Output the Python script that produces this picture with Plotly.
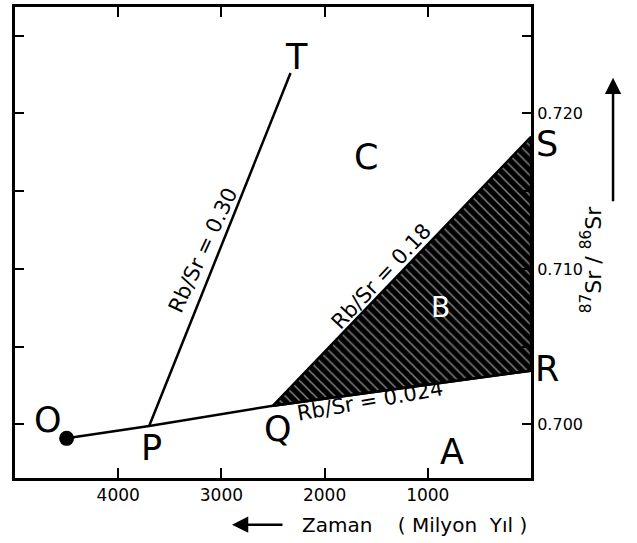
import plotly.graph_objects as go

# ---- data ----
point_names = ["O", "P", "Q", "R", "S", "T"]
age_ma = [4500, 3700, 2500, 0, 0, 2330]
sr_ratio = [0.6991, 0.6999, 0.7012, 0.70345, 0.7185, 0.7226]

x_tick_vals = [4000, 3000, 2000, 1000]
x_tick_text = ["4000", "3000", "2000", "1000"]
y_tick_vals = [0.700, 0.705, 0.710, 0.715, 0.720, 0.725]
y_tick_text = ["0.700", "", "0.710", "", "0.720", ""]

region_names = ["C", "B", "A"]
region_age = [1600, 880, 765]
region_sr = [0.7172, 0.7075, 0.6982]

line_labels = ["Rb/Sr = 0.30", "Rb/Sr = 0.18", "Rb/Sr = 0.024"]
line_label_age = [3180, 1445, 1560]
line_label_sr = [0.71125, 0.70953, 0.70153]
line_label_angle = [-65, -47, -10]

P = dict(zip(point_names, zip(age_ma, sr_ratio)))
FONT = "DejaVu Sans"

fig = go.Figure()

# hatched triangle Q-S-R
tri = ["Q", "S", "R", "Q"]
fig.add_trace(go.Scatter(
    x=[P[k][0] for k in tri], y=[P[k][1] for k in tri],
    mode="lines", fill="toself",
    line=dict(color="black", width=2.5),
    fillcolor="black",
    fillpattern=dict(shape="\\", fgcolor="white", bgcolor="black", size=7, solidity=0.22),
    showlegend=False, hoverinfo="skip"))

# O -> R line (through P and Q)
seg = ["O", "P", "Q", "R"]
fig.add_trace(go.Scatter(
    x=[P[k][0] for k in seg], y=[P[k][1] for k in seg],
    mode="lines", line=dict(color="black", width=2.5), showlegend=False))

# P -> T line
seg = ["P", "T"]
fig.add_trace(go.Scatter(
    x=[P[k][0] for k in seg], y=[P[k][1] for k in seg],
    mode="lines", line=dict(color="black", width=2.5), showlegend=False))

# O dot
fig.add_trace(go.Scatter(
    x=[P["O"][0]], y=[P["O"][1]], mode="markers",
    marker=dict(color="black", size=15), showlegend=False))

# point letters
shifts = {"O": (-19, 18), "P": (2, -22), "Q": (5, -23), "R": (16, 2), "S": (16, -7), "T": (6, 16)}
for k in point_names:
    dx, dy = shifts[k]
    fig.add_annotation(x=P[k][0], y=P[k][1], text=k, showarrow=False,
                       xshift=dx, yshift=dy, xanchor="center", yanchor="middle",
                       font=dict(family=FONT, size=35, color="black"))

# region letters
for name, a, s in zip(region_names, region_age, region_sr):
    fig.add_annotation(x=a, y=s, text=name, showarrow=False,
                       font=dict(family=FONT, size=35 if name != "B" else 28,
                                 color="white" if name == "B" else "black"))

# line labels
for t, a, s, ang in zip(line_labels, line_label_age, line_label_sr, line_label_angle):
    fig.add_annotation(x=a, y=s, text=t, showarrow=False, textangle=ang,
                       font=dict(family=FONT, size=21, color="black"))

# axis titles
fig.add_annotation(xref="paper", yref="paper", x=1.149, y=0.464,
                   text="<sup>87</sup>Sr / <sup>86</sup>Sr", showarrow=False,
                   textangle=-90, font=dict(family=FONT, size=22, color="black"))
fig.add_annotation(xref="paper", yref="paper", x=1.159, y=0.85, text="",
                   showarrow=True, ax=0, ay=125, arrowhead=2, arrowsize=1.3,
                   arrowwidth=2.5, arrowcolor="black")
fig.add_annotation(xref="paper", yref="paper", x=0.4205, y=-0.099, text="",
                   showarrow=True, ax=52, ay=0, arrowhead=2, arrowsize=1.3,
                   arrowwidth=2.5, arrowcolor="black")
fig.add_annotation(xref="paper", yref="paper", x=0.552, y=-0.099,
                   text="Zaman    ( Milyon  Yıl )", showarrow=False,
                   xanchor="left", yanchor="middle",
                   font=dict(family=FONT, size=20, color="black"))

fig.update_xaxes(range=[5000, 0], tickvals=x_tick_vals, ticktext=x_tick_text,
                 showline=True, linewidth=3, linecolor="black", mirror="ticks",
                 ticks="inside", ticklen=10, tickwidth=2, tickcolor="black",
                 showgrid=False, zeroline=False,
                 tickfont=dict(family=FONT, size=17, color="black"))
fig.update_yaxes(range=[0.69655, 0.72685], tickvals=y_tick_vals, ticktext=y_tick_text,
                 side="right", showline=True, linewidth=3, linecolor="black",
                 mirror="ticks", ticks="inside", ticklen=9, tickwidth=2,
                 tickcolor="black", showgrid=False, zeroline=False,
                 tickfont=dict(family=FONT, size=16, color="black"))

fig.update_layout(width=637, height=543, margin=dict(l=15, r=106, t=4, b=65),
                  plot_bgcolor="white", paper_bgcolor="white", showlegend=False)

fig.write_html("out.html", config={"displayModeBar": False},
               post_script="document.body.style.margin='0';")
